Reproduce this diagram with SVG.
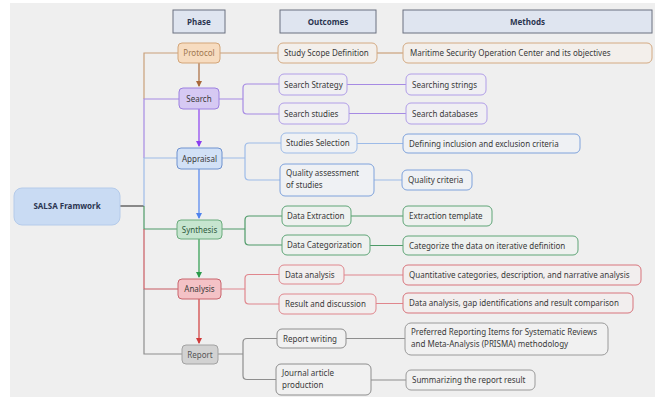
<svg xmlns="http://www.w3.org/2000/svg" width="657" height="399" viewBox="0 0 657 399">
<defs>
<style>
text{font-family:"Noto Sans","Open Sans","DejaVu Sans",sans-serif;font-size:8px;fill:#3a3a3a;}
.hd rect{fill:#dfe5f0;stroke:#6b7180;stroke-width:1;}
.hd text{font-weight:bold;fill:#2b3550;text-anchor:middle;}
.c{fill:none;stroke-width:1.2;}
.o{stroke:#c9a07a;} .p{stroke:#a68ae3;} .b{stroke:#9dbbe8;} .g{stroke:#4e9a68;} .r{stroke:#e0868d;} .k{stroke:#8e8e8e;}
.ph text{text-anchor:middle;}
.box{stroke-width:1;}
</style>
<marker id="ao" markerWidth="6" markerHeight="6" refX="5" refY="3" orient="auto" markerUnits="userSpaceOnUse"><path d="M0,0 L6,3 L0,6 z" fill="#a8683a"/></marker>
<marker id="ap" markerWidth="6" markerHeight="6" refX="5" refY="3" orient="auto" markerUnits="userSpaceOnUse"><path d="M0,0 L6,3 L0,6 z" fill="#8b3ff0"/></marker>
<marker id="ab" markerWidth="6" markerHeight="6" refX="5" refY="3" orient="auto" markerUnits="userSpaceOnUse"><path d="M0,0 L6,3 L0,6 z" fill="#4f83ee"/></marker>
<marker id="ag" markerWidth="6" markerHeight="6" refX="5" refY="3" orient="auto" markerUnits="userSpaceOnUse"><path d="M0,0 L6,3 L0,6 z" fill="#2b9a4b"/></marker>
<marker id="ar" markerWidth="6" markerHeight="6" refX="5" refY="3" orient="auto" markerUnits="userSpaceOnUse"><path d="M0,0 L6,3 L0,6 z" fill="#d03a3a"/></marker>
</defs>
<rect x="0" y="0" width="657" height="399" fill="#ffffff"/>
<rect x="10" y="3" width="645" height="394" fill="#efefef"/>

<g id="headers" class="hd">
<rect x="173" y="10" width="52" height="23"/><text x="199" y="24.5">Phase</text>
<rect x="280" y="10" width="96" height="23"/><text x="328" y="24.5">Outcomes</text>
<rect x="403" y="10" width="249" height="23"/><text x="527.5" y="24.5">Methods</text>
</g>

<g id="connectors">
<!-- trunk from SALSA -->
<path class="c" stroke="#444" d="M120,206 H144"/>
<path class="c o" d="M179,53 H144 V99"/>
<path class="c p" d="M179,99 H144 V158"/>
<path class="c b" d="M177,158 H144 V206"/>
<path class="c g" d="M177,229 H144 V206"/>
<path class="c r" stroke="#c8505a" style="stroke:#c85a62" d="M178,289 H144 V229"/>
<path class="c k" d="M182,354 H144 V289"/>
<!-- phase arrows -->
<path class="c" stroke="#a8683a" d="M199,63 V86" marker-end="url(#ao)"/>
<path class="c" stroke="#8b3ff0" d="M199,109 V146" marker-end="url(#ap)"/>
<path class="c" stroke="#4f83ee" d="M199,169 V218" marker-end="url(#ab)"/>
<path class="c" stroke="#2b9a4b" d="M199,239 V277" marker-end="url(#ag)"/>
<path class="c" stroke="#d03a3a" d="M199,299 V343" marker-end="url(#ar)"/>
<!-- phase to outcomes -->
<path class="c o" d="M220,53 H278"/>
<path class="c p" d="M219,99 H243 M279,84 H247 Q243,84 243,88 V110 Q243,114 247,114 H279"/>
<path class="c b" d="M222,158 H245 M281,143 H249 Q245,143 245,147 V176 Q245,180 249,180 H280"/>
<path class="c g" d="M222,229 H245 M282,216 H249 Q245,216 245,220 V241 Q245,245 249,245 H282"/>
<path class="c r" d="M221,289 H245 M279,274.5 H249 Q245,274.5 245,278.5 V300 Q245,304 249,304 H279"/>
<path class="c k" d="M218,354 H243 M277,338.5 H247 Q243,338.5 243,342.5 V375.5 Q243,379.5 247,379.5 H276"/>
<!-- outcomes to methods -->
<path class="c o" d="M377,53 H403"/>
<path class="c p" d="M347,84.5 H406 M349,113.5 H406"/>
<path class="c b" d="M357,143.5 H403 M374,180 H402"/>
<path class="c g" d="M351,216 H403 M370,245.5 H403"/>
<path class="c r" d="M344,275 H403 M376,303.5 H403"/>
<path class="c k" d="M346,338.5 H405 M371,380 H406"/>
</g>

<g id="salsa"><rect x="14" y="188" width="106" height="37" rx="8" fill="#c9dbf3" stroke="#b5cbea"/><text x="67" y="209" text-anchor="middle" font-weight="bold" style="fill:#2b3550">SALSA Framwork</text></g>

<g id="protocol" class="ph"><rect class="box" x="178" y="43" width="42" height="20" rx="4" fill="#f7dcc0" stroke="#d3a578"/><text x="199" y="56" style="fill:#a0774f">Protocol</text></g>
<g id="search" class="ph"><rect class="box" x="179" y="88" width="40" height="21" rx="4" fill="#d6c9f3" stroke="#9c80e0"/><text x="199" y="101.5">Search</text></g>
<g id="appraisal" class="ph"><rect class="box" x="177" y="148" width="45" height="21" rx="4" fill="#d2e1f6" stroke="#6f92cf"/><text x="199.5" y="161.5">Appraisal</text></g>
<g id="synthesis" class="ph"><rect class="box" x="177" y="220" width="45" height="19" rx="4" fill="#c6e5cf" stroke="#6aab7c"/><text x="199.5" y="232.5" style="fill:#2f5a3d">Synthesis</text></g>
<g id="analysis" class="ph"><rect class="box" x="178" y="279" width="43" height="20" rx="4" fill="#f4c2c6" stroke="#c9646d"/><text x="199.5" y="292">Analysis</text></g>
<g id="report" class="ph"><rect class="box" x="182" y="345" width="36" height="19" rx="4" fill="#d2d2d2" stroke="#a2a2a2"/><text x="200" y="357.5" style="fill:#555">Report</text></g>

<g id="o-scope"><rect class="box" x="278" y="43" width="99" height="20" rx="5" fill="#f3efeb" stroke="#d4aa82"/><text x="284" y="56">Study Scope Definition</text></g>
<g id="o-strategy"><rect class="box" x="279" y="74" width="68" height="21" rx="5" fill="#f0eff3" stroke="#b19ee8"/><text x="284" y="87.5">Search Strategy</text></g>
<g id="o-studies"><rect class="box" x="279" y="103" width="70" height="21" rx="5" fill="#f0eff3" stroke="#b19ee8"/><text x="284" y="116.5">Search studies</text></g>
<g id="o-selection"><rect class="box" x="281" y="133" width="76" height="20" rx="5" fill="#eff1f4" stroke="#9dbbe8"/><text x="286" y="146">Studies Selection</text></g>
<g id="o-quality"><rect class="box" x="280" y="164" width="94" height="32" rx="5" fill="#eff1f4" stroke="#7ea2dc"/><text x="286" y="176">Quality assessment</text><text x="286" y="188">of studies</text></g>
<g id="o-extraction"><rect class="box" x="282" y="206" width="69" height="20" rx="5" fill="#eef1ef" stroke="#5fa577"/><text x="287" y="219">Data Extraction</text></g>
<g id="o-categorization"><rect class="box" x="282" y="235" width="88" height="20" rx="5" fill="#eef1ef" stroke="#5fa577"/><text x="287" y="248">Data Categorization</text></g>
<g id="o-dataanalysis"><rect class="box" x="279" y="265" width="65" height="19" rx="5" fill="#f2eeee" stroke="#e0868d"/><text x="285" y="277.5">Data analysis</text></g>
<g id="o-result"><rect class="box" x="279" y="294" width="97" height="20" rx="5" fill="#f2eeee" stroke="#e0868d"/><text x="285" y="307">Result and discussion</text></g>
<g id="o-reportwriting"><rect class="box" x="277" y="329" width="69" height="19" rx="5" fill="#f1f1f1" stroke="#8e8e8e"/><text x="283" y="341.5">Report writing</text></g>
<g id="o-journal"><rect class="box" x="276" y="364" width="95" height="31" rx="5" fill="#f1f1f1" stroke="#8e8e8e"/><text x="282" y="376">Journal article</text><text x="282" y="388">production</text></g>

<g id="m-maritime"><rect class="box" x="403" y="43" width="249" height="20" rx="5" fill="#f3efeb" stroke="#d4aa82"/><text x="410" y="56">Maritime Security Operation Center and its objectives</text></g>
<g id="m-strings"><rect class="box" x="406" y="74" width="80" height="21" rx="5" fill="#f0eff3" stroke="#b19ee8"/><text x="412" y="87.5">Searching strings</text></g>
<g id="m-databases"><rect class="box" x="406" y="103" width="81" height="21" rx="5" fill="#f0eff3" stroke="#b19ee8"/><text x="412" y="116.5">Search databases</text></g>
<g id="m-criteria"><rect class="box" x="403" y="134" width="177" height="19" rx="5" fill="#eff1f4" stroke="#7ea2dc"/><text x="409" y="146.5">Defining inclusion and exclusion criteria</text></g>
<g id="m-qualitycrit"><rect class="box" x="402" y="170" width="70" height="20" rx="5" fill="#eff1f4" stroke="#7ea2dc"/><text x="408" y="183">Quality criteria</text></g>
<g id="m-template"><rect class="box" x="403" y="206" width="89" height="20" rx="5" fill="#eef1ef" stroke="#5fa577"/><text x="409" y="219">Extraction template</text></g>
<g id="m-categorize"><rect class="box" x="403" y="236" width="175" height="19" rx="5" fill="#eef1ef" stroke="#5fa577"/><text x="409" y="248.5">Categorize the data on iterative definition</text></g>
<g id="m-quantitative"><rect class="box" x="403" y="265" width="238" height="20" rx="5" fill="#f2eeee" stroke="#d8747c"/><text x="409" y="278">Quantitative categories, description, and narrative analysis</text></g>
<g id="m-gap"><rect class="box" x="403" y="293" width="230" height="20" rx="5" fill="#f2eeee" stroke="#d8747c"/><text x="409" y="306">Data analysis, gap identifications and result comparison</text></g>
<g id="m-prisma"><rect class="box" x="405" y="323" width="203" height="32" rx="6" fill="#f1f1f1" stroke="#9a9a9a"/><text x="411" y="335">Preferred Reporting Items for Systematic Reviews</text><text x="411" y="347">and Meta-Analysis (PRISMA) methodology</text></g>
<g id="m-summarizing"><rect class="box" x="406" y="370" width="129" height="20" rx="5" fill="#f1f1f1" stroke="#9a9a9a"/><text x="412" y="383">Summarizing the report result</text></g>
</svg>
